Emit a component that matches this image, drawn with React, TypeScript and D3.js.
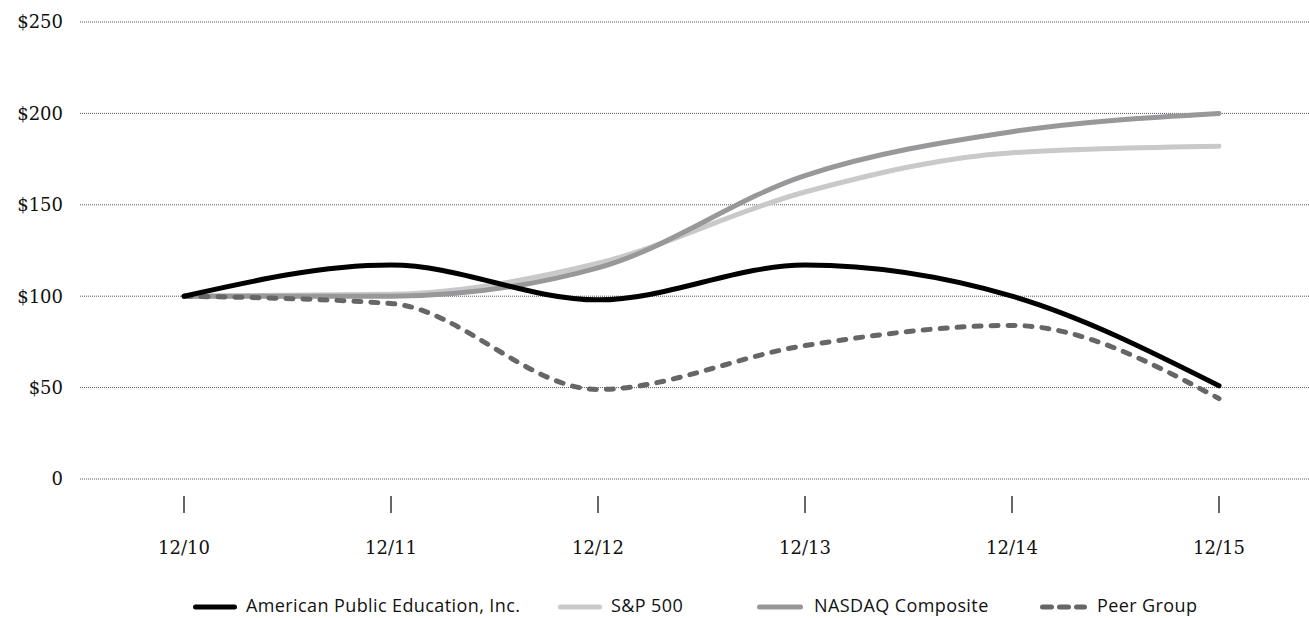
import React from "react";
import * as d3 from "d3";

const categories = ["12/10", "12/11", "12/12", "12/13", "12/14", "12/15"];
const apei = [100, 117, 98, 117, 100, 51];
const sp500 = [100, 101, 118, 157, 178.5, 182];
const nasdaq = [100, 100, 115.5, 166, 190, 200];
const peer = [100, 96, 49, 73, 84, 44];
const yTicks = [0, 50, 100, 150, 200, 250];

const W = 1309;
const H = 618;

type S = { name: string; values: number[]; color: string; dash?: string };
const series: S[] = [
  { name: "S&P 500", values: sp500, color: "#c9c9c9" },
  { name: "NASDAQ Composite", values: nasdaq, color: "#98989a" },
  { name: "Peer Group", values: peer, color: "#666666", dash: "7,10" },
  { name: "American Public Education, Inc.", values: apei, color: "#000000" },
];
const legendOrder = [
  { s: series[3], x0: 193, x1: 237, tx: 246 },
  { s: series[0], x0: 558, x1: 602, tx: 611 },
  { s: series[1], x0: 757, x1: 803, tx: 814 },
  { s: series[2], x0: 1040, x1: 1087, tx: 1097 },
];

export default function App() {
  const x = d3.scalePoint<string>().domain(categories).range([184, 1219]);
  const y = d3.scaleLinear().domain([0, 250]).range([479, 22]);
  const line = (vals: number[]) =>
    d3
      .line<number>()
      .x((_, i) => x(categories[i]) as number)
      .y((d) => y(d))
      .curve(d3.curveMonotoneX)(vals) as string;

  const serif = "'DejaVu Serif', Georgia, serif";
  const legendY = 606;
  return (
    <svg width={W} height={H} style={{ position: "absolute", left: 0, top: 0, background: "#fff" }}>
      {yTicks.map((t) => (
        <g key={t}>
          <line x1={80} x2={W} y1={y(t)} y2={y(t)} stroke="#555" strokeWidth={1} strokeDasharray="1,1" />
          <text x={63} y={y(t)} dy="0.35em" textAnchor="end" fontFamily={serif} fontSize={18} fill="#111">
            {t === 0 ? "0" : `$${t}`}
          </text>
        </g>
      ))}
      {categories.map((c) => (
        <g key={c}>
          <line x1={x(c)} x2={x(c)} y1={496} y2={513} stroke="#000" strokeWidth={1.2} />
          <text x={x(c)} y={554} textAnchor="middle" fontFamily={serif} fontSize={18} fill="#111">
            {c}
          </text>
        </g>
      ))}
      {series.map((s) => (
        <path
          key={s.name}
          d={line(s.values)}
          fill="none"
          stroke={s.color}
          strokeWidth={5}
          strokeLinecap="round"
          strokeDasharray={s.dash}
        />
      ))}
      {legendOrder.map(({ s, x0, x1, tx }) => (
        <g key={s.name}>
          <line
            x1={x0 + 2.5}
            x2={x1 - 2.5}
            y1={legendY + 1}
            y2={legendY + 1}
            stroke={s.color}
            strokeWidth={5}
            strokeLinecap="round"
            strokeDasharray={s.dash ? "9,8" : undefined}
          />
          <text x={tx} y={legendY} dy="0.35em" fontFamily="'Open Sans', 'Noto Sans', sans-serif" fontSize={18} letterSpacing={0.4} fill="#111">
            {s.name}
          </text>
        </g>
      ))}
    </svg>
  );
}
